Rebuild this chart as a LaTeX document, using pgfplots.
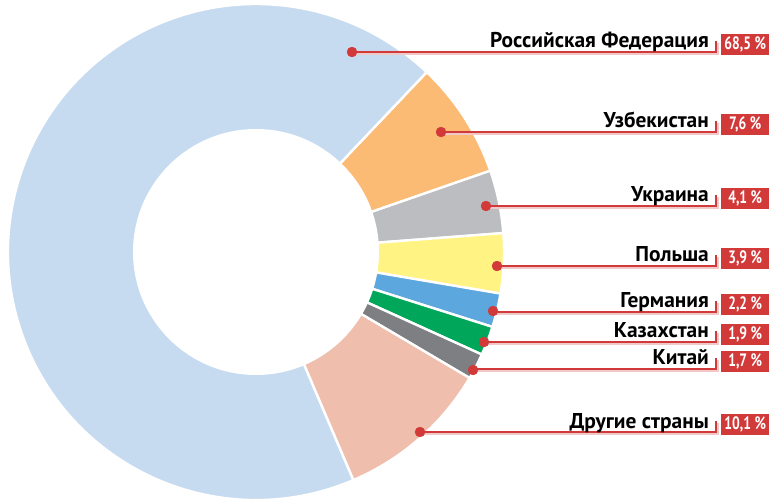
\documentclass[border=0pt]{standalone}
\usepackage{pgfplots}
\pgfplotsset{compat=1.18}
\usepackage{graphicx}
\usepackage{fontspec}
\setmainfont{PT Sans}
\definecolor{cRus}{HTML}{C6DBF0}
\definecolor{cUzb}{HTML}{FBBB74}
\definecolor{cUkr}{HTML}{BCBDC0}
\definecolor{cPol}{HTML}{FFF384}
\definecolor{cGer}{HTML}{5CA7DE}
\definecolor{cKaz}{HTML}{00A75B}
\definecolor{cChn}{HTML}{7E7F82}
\definecolor{cOth}{HTML}{EFBEAD}
\definecolor{lred}{HTML}{D23A3A}
\definecolor{lshadow}{HTML}{F0C8C8}
\newcommand{\lab}[5]{% dotx, doty, liney, name, pct
  \addplot[lshadow, line width=1.6pt, forget plot] coordinates {(#1,#3-2) (718,#3-2) (718,#3+9)};
  \addplot[lred, line width=1.6pt, forget plot] coordinates {(#1,#3) (716,#3) (716,#3+11)};
  \addplot[only marks, mark=*, mark size=5pt, mark options={fill=lred, draw=lred}, forget plot] coordinates {(#1,#2)};
  \node[anchor=base east, font=\bfseries\fontsize{21.5}{21.5}\selectfont, inner sep=0pt] at (axis cs:709,#3+4) {#4};
  \node[anchor=south west, fill=lred, text=white, minimum height=21bp, minimum width=48bp, inner sep=0pt, font=\bfseries\fontsize{18}{18}\selectfont] at (axis cs:721,#3-3) {\scalebox{0.76}[1]{#5}};
}
\begin{document}
\begin{tikzpicture}
\begin{axis}[scale only axis, width=771bp, height=503bp,
  xmin=0, xmax=771, ymin=0, ymax=503, hide axis, clip=false]
\xdef\cur{46.5}
\foreach \v/\c in {7.6/cUzb,4.1/cUkr,3.9/cPol,2.2/cGer,1.9/cKaz,1.7/cChn,10.1/cOth,68.5/cRus}{
  \pgfmathsetmacro\st{\cur-3.6*\v}
  \edef\tmp{\noexpand\fill[\c, draw=white, line width=2.4pt] (axis cs:256,251) -- ++(\cur:248bp) arc[start angle=\cur, end angle=\st, radius=248bp] -- cycle;}
  \tmp
  \xdef\cur{\st}
}
\fill[white] (axis cs:256,251) circle[radius=123bp];
\lab{352}{451}{451}{Российская Федерация}{68,5 \%}
\lab{441}{371}{371}{Узбекистан}{7,6 \%}
\lab{486}{297}{297}{Украина}{4,1 \%}
\lab{497}{237}{237}{Польша}{3,9 \%}
\lab{493}{192}{191}{Германия}{2,2 \%}
\lab{484}{161}{161}{Казахстан}{1,9 \%}
\lab{473}{133}{134}{Китай}{1,7 \%}
\lab{420}{71}{71}{Другие страны}{10,1 \%}
\end{axis}
\pgfresetboundingbox
\path (0,0) rectangle (771bp,503bp);
\end{tikzpicture}
\end{document}
